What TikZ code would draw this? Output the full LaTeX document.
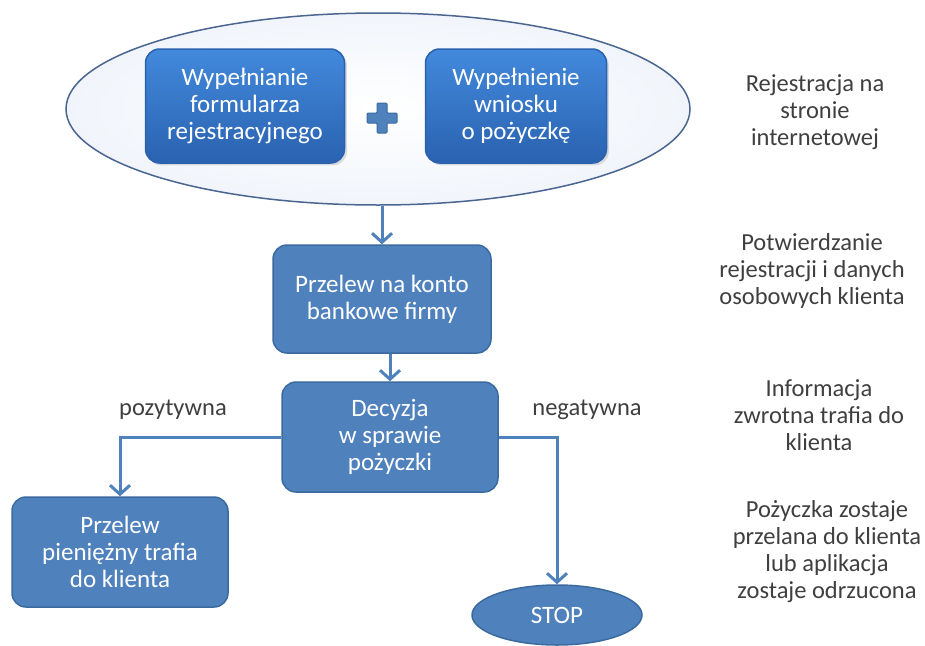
\documentclass[tikz,border=0pt]{standalone}
\usepackage{fontspec}
\setmainfont{Carlito}
\usetikzlibrary{arrows.meta,shapes.geometric,shadows}

\definecolor{boxblue}{HTML}{4F81BD}
\definecolor{boxedge}{HTML}{3B6A9F}
\definecolor{topblue}{HTML}{4289DC}
\definecolor{topblue2}{HTML}{2A62B0}
\definecolor{ovaledge}{HTML}{4A6590}
\definecolor{ovalfill}{HTML}{F1F5FB}
\definecolor{notegray}{HTML}{3F3F3F}

\tikzset{
	krok/.style={draw=boxedge, line width=1.5pt, fill=boxblue, rounded corners=14pt, text=white, align=center, font=\fontsize{25}{27}\selectfont, inner sep=0pt},
	formbox/.style={krok, draw=topblue2, top color=topblue, bottom color=topblue2, drop shadow={opacity=0.25}},
	opis/.style={text=notegray, align=center, font=\fontsize{24.5}{27}\selectfont},
	strzalka/.style={draw=boxblue, line width=3pt, -{Straight Barb[length=9pt,width=20pt]}},
	plusmark/.style={fill=boxblue, draw=boxedge, line width=1pt, rounded corners=1pt}
}

\begin{document}
\begin{tikzpicture}[x=1pt, y=-1pt]
		%%%%% START %%%%%
		\useasboundingbox (0, 0) rectangle (925, 645);
		
		\node[ellipse, draw=ovaledge, line width=1.5pt, inner color=white, outer color=ovalfill, minimum width=624pt, minimum height=192pt] (rejestracja) at (378, 109) {};
		
		\node[formbox, minimum width=199pt, minimum height=114pt] (formularz) at (245, 106) {Wypełnianie\\formularza\\rejestracyjnego};
		\node[formbox, minimum width=181pt, minimum height=114pt] (wniosek) at (516, 106) {Wypełnienie\\wniosku\\o pożyczkę};
		
		\coordinate (plus) at (382, 118);
		\draw[plusmark, shift={(plus)}] (-5, -15) -- (5, -15) -- (5, -5) -- (15, -5) -- (15, 5) -- (5, 5) -- (5, 15) -- (-5, 15) -- (-5, 5) -- (-15, 5) -- (-15, -5) -- (-5, -5) -- cycle;
		
		\node[krok, minimum width=218pt, minimum height=108pt] (przelew) at (382, 299) {Przelew na konto\\bankowe firmy};
		\node[krok, minimum width=216pt, minimum height=110pt] (decyzja) at (390, 437) {Decyzja\\w sprawie\\pożyczki};
		\node[krok, minimum width=216pt, minimum height=110pt] (wyplata) at (120, 552) {Przelew\\pieniężny trafia\\do klienta};
		\node[krok, ellipse, minimum width=170pt, minimum height=60pt] (stop) at (557, 615) {STOP};
		
		\draw[strzalka] (przelew.north |- rejestracja.south) -- (przelew.north);
		\draw[strzalka] (decyzja.north |- przelew.south) -- (decyzja.north);
		\draw[strzalka] (decyzja.west) -| (wyplata.north);
		\draw[strzalka] (decyzja.east) -| (stop.north);
		
		\node[opis] (pozytywna) at (173, 410) {pozytywna};
		\node[opis] (negatywna) at (587, 410) {negatywna};
		
		\node[opis] (opis1) at (815, 112) {Rejestracja na\\stronie\\internetowej};
		\node[opis] (opis2) at (812, 271) {Potwierdzanie\\rejestracji i danych\\osobowych klienta};
		\node[opis] (opis3) at (819, 415) {Informacja\\zwrotna trafia do\\klienta};
		\node[opis] (opis4) at (827, 552) {Pożyczka zostaje\\przelana do klienta\\lub aplikacja\\zostaje odrzucona};
		
		%%%%% END %%%%%
\end{tikzpicture}
\end{document}
